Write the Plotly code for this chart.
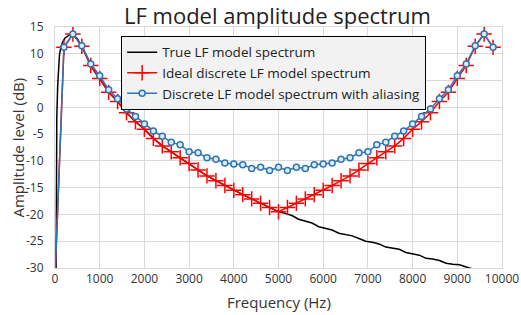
import plotly.graph_objects as go

# ---- data ----
freq_disc = [0, 200, 400, 600, 800, 1000, 1200, 1400, 1600, 1800, 2000, 2200, 2400, 2600, 2800,
             3000, 3200, 3400, 3600, 3800, 4000, 4200, 4400, 4600, 4800, 5000,
             5200, 5400, 5600, 5800, 6000, 6200, 6400, 6600, 6800, 7000, 7200, 7400, 7600, 7800,
             8000, 8200, 8400, 8600, 8800, 9000, 9200, 9400, 9600, 9800]

ideal_db = [-32, 11.2, 13.7, 11.4, 7.8, 5.4, 2.8, 1.1, -1.0, -2.7, -4.1, -5.8, -7.2, -8.3, -9.4,
            -10.5, -11.7, -12.8, -13.7, -14.6, -15.5, -16.3, -17.1, -17.9, -18.7, -19.5,
            -18.7, -17.9, -17.1, -16.3, -15.5, -14.6, -13.7, -12.8, -11.7, -10.5, -9.4, -8.3, -7.2, -5.8,
            -4.1, -2.7, -1.0, 1.1, 2.8, 5.4, 7.8, 11.4, 13.7, 11.2]

alias_db = [-32, 11.2, 13.7, 11.5, 8.1, 5.9, 3.3, 1.6, -0.3, -1.7, -3.1, -4.4, -5.4, -6.5, -7.0,
            -8.3, -8.5, -9.4, -9.7, -10.4, -10.6, -10.7, -11.4, -11.2, -11.8, -11.2,
            -11.8, -11.2, -11.4, -10.7, -10.6, -10.4, -9.7, -9.4, -8.5, -8.3, -7.0, -6.5, -5.4, -4.4,
            -3.1, -1.7, -0.3, 1.6, 3.3, 5.9, 8.1, 11.5, 13.7, 11.2]

freq_true = [0, 20, 40, 60, 80, 100, 130, 170, 220, 300, 400, 500, 600, 700, 800, 900, 1000,
             1200, 1400, 1600, 1800, 2000, 2200, 2400, 2600, 2800, 3000, 3200, 3400, 3600, 3800,
             4000, 4200, 4400, 4600, 4800, 5000, 5150, 5300, 5450, 5600, 5750, 5900, 6050, 6200,
             6350, 6500, 6650, 6800, 6950, 7100, 7250, 7400, 7550, 7700, 7850, 8000, 8150, 8300,
             8450, 8600, 8750, 8900, 9050, 9200, 9350, 9500]
true_db = [-80, -15, -2, 4, 7.8, 9.8, 11.2, 12.2, 12.9, 13.4, 13.6, 12.8, 11.4, 9.5, 7.8, 6.5, 5.4,
           2.8, 1.1, -1.0, -2.7, -4.1, -5.8, -7.2, -8.3, -9.4, -10.5, -11.7, -12.8, -13.7, -14.6,
           -15.5, -16.3, -17.1, -17.9, -18.7, -19.5, -19.8, -20.2, -20.9, -21.2, -21.6, -22.3, -22.6, -22.9,
           -23.5, -23.8, -24.0, -24.5, -25.0, -25.2, -25.5, -26.1, -26.3, -26.5, -27.1, -27.3, -27.6, -28.2,
           -28.3, -28.6, -29.1, -29.3, -29.4, -29.8, -30.2, -30.3]

x_ticks = [0, 1000, 2000, 3000, 4000, 5000, 6000, 7000, 8000, 9000, 10000]
y_ticks = [-30, -25, -20, -15, -10, -5, 0, 5, 10, 15]

FONT = "Open Sans"
TXT = "#333333"
GRID = "#d9d9d9"

fig = go.Figure()
fig.add_trace(go.Scatter(x=freq_true, y=true_db, mode="lines", name="True LF model spectrum",
                         line=dict(color="black", width=1.5)))
fig.add_trace(go.Scatter(x=freq_disc, y=ideal_db, mode="lines+markers",
                         name="Ideal discrete LF model spectrum",
                         line=dict(color="#ff0000", width=1.5),
                         marker=dict(symbol="cross-thin", size=11,
                                     line=dict(color="#ff0000", width=1.5))))
fig.add_trace(go.Scatter(x=freq_disc, y=alias_db, mode="lines+markers",
                         name="Discrete LF model spectrum with aliasing",
                         line=dict(color="#2e75b6", width=1.5),
                         marker=dict(symbol="circle", size=6, color="#dcebf8",
                                     line=dict(color="#2e75b6", width=1.5))))

fig.update_layout(
    width=521, height=315,
    margin=dict(l=55, r=19, t=27, b=47, autoexpand=False),
    paper_bgcolor="white", plot_bgcolor="white",
    font=dict(family=FONT, color=TXT, size=12),
    legend=dict(x=0.148, y=0.963, xanchor="left", yanchor="top",
                bgcolor="#f2f2f2", bordercolor="black", borderwidth=1,
                font=dict(family=FONT, size=13.5, color="#222222"),
                tracegroupgap=0, itemwidth=30),
    showlegend=True,
    annotations=[
        dict(text="LF model amplitude spectrum", xref="paper", yref="paper",
             x=0.497, y=1.05, xanchor="center", yanchor="middle", showarrow=False,
             font=dict(family=FONT, size=22, color="#222222")),
        dict(text="Frequency (Hz)", xref="paper", yref="paper",
             x=0.5, y=-0.141, xanchor="center", yanchor="middle", showarrow=False,
             font=dict(family=FONT, size=15, color=TXT)),
        dict(text="Amplitude level (dB)", xref="paper", yref="paper", textangle=-90,
             x=-0.085, y=0.5, xanchor="center", yanchor="middle", showarrow=False,
             font=dict(family=FONT, size=15, color=TXT)),
    ],
)
fig.update_xaxes(range=[0, 10000], tickvals=x_ticks, ticktext=[str(v) for v in x_ticks],
                 showgrid=True, gridcolor=GRID, gridwidth=1, zeroline=False, automargin=False,
                 showline=True, linecolor=GRID, mirror=True, ticks="", ticklabeloverflow="allow",
                 tickfont=dict(size=12, color=TXT))
fig.update_yaxes(range=[-30, 15], tickvals=y_ticks, ticktext=[str(v) for v in y_ticks],
                 showgrid=True, gridcolor=GRID, gridwidth=1, zeroline=False, automargin=False,
                 showline=True, linecolor=GRID, mirror=True, ticks="", ticklabelstandoff=8,
                 ticklabeloverflow="allow",
                 tickfont=dict(size=12, color=TXT))

# remove the browser's default 8px body margin so the 521x315 figure fills the window
fig.write_html("out.html",
               config={"displayModeBar": False},
               post_script="document.body.style.margin='0';"
                           "document.documentElement.style.overflow='hidden';")
